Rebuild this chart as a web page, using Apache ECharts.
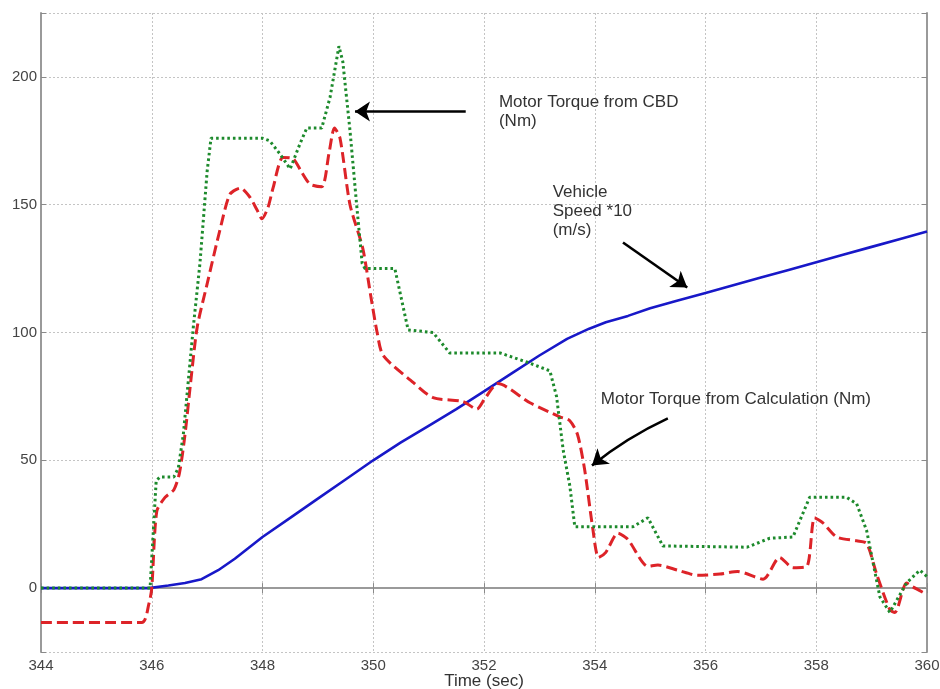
<!DOCTYPE html>
<html>
<head>
<meta charset="utf-8">
<script src="https://cdn.jsdelivr.net/npm/echarts@6/dist/echarts.min.js"></script>
<style>html,body{margin:0;padding:0;background:#fff}#c{width:940px;height:689px}</style>
</head>
<body>
<div id="c"></div>
<script>
// ---- data ----
const xTicksMin = 344, xTicksMax = 360, xStep = 2;
const yMin = -25, yMax = 225;
const speedT = [344,345,345.95,346.3,346.6,346.9,347.2,347.5,348,348.5,349,349.5,350,350.5,351,351.5,352,352.5,353,353.5,353.9,354.2,354.6,355,355.5,356,356.5,357,357.5,358,358.5,359,359.5,360];
const speedV = [0,0,0,1,2,3.5,7,11.5,20,27.5,35,42.5,50,57,63.5,70,77,84,91,97.5,101.5,104,106.5,109.5,112.5,115.5,118.5,121.5,124.5,127.5,130.5,133.5,136.5,139.5];
const calcT = [344,345.82,345.95,346.0,346.09,346.24,346.4,346.5,346.6,346.7,346.82,347,347.23,347.41,347.6,347.77,347.9,347.99,348.1,348.19,348.37,348.55,348.7,348.86,349.07,349.2,349.3,349.4,349.58,349.81,349.95,350.07,350.18,350.72,351.08,351.62,351.87,352.01,352.25,352.83,353.37,353.55,353.69,353.82,353.96,354.07,354.2,354.42,354.6,354.96,355.14,355.5,355.86,356.26,356.58,357.04,357.34,357.58,357.83,357.97,358.12,358.37,358.73,358.91,359.09,359.33,359.42,359.63,359.74,360];
const calcV = [-13.5,-13.5,-6,0,30,35.5,38.5,45,60,80,102,119,140,154,156.5,153,148,144.5,149,156.5,168.5,168,163,158,157,170,180,176,150,133,115,100,91,80.5,74.5,73,70,74,80,72.5,67,65.5,60,46,24,12,14,21.5,19,8.5,9,7,5,5.5,6.5,3.5,12,8,8.5,27.5,25.5,20,18.5,17.5,5.5,-8.5,-9.5,2,0.5,-2.5];
const cbdT = [344,345.97,346.08,346.15,346.4,346.48,346.57,346.75,346.87,347,347.07,348.0,348.13,348.31,348.5,348.68,348.8,349.07,349.22,349.38,349.45,349.58,349.7,349.8,349.85,350.39,350.63,351.08,351.38,352.29,352.83,353.19,353.31,353.43,353.55,353.64,354.69,354.96,355.23,356.75,357.16,357.58,357.88,358.55,358.73,358.91,359.15,359.33,359.63,359.87,360];
const cbdV = [0,0,42,43.5,43.5,47,60,102,127,163,176,176,175,170,164,174,180,180,192,212,206,179,150,127,125,125,101,100,92,92,88,85,75,54,40,24,24,27.5,16.5,16,19.5,20,35.5,35.5,33,22.5,-3.5,-9.5,2,7,4.5];
const noteTexts = ['Motor Torque from CBD\n(Nm)', 'Vehicle\nSpeed *10\n(m/s)', 'Motor Torque from Calculation (Nm)'];
const noteAt = [[352.27,193.7],[353.24,158.6],[354.11,77.7]];
const arrowFrom = [[351.67,186.5],[354.51,135.2],[355.32,66.4]];
const arrowTo = [[349.67,186.5],[355.67,117.6],[353.95,48]];
const arrowCurve = [0,0,-0.06];
const xName = 'Time (sec)';

const zip = (a,b) => a.map((v,i)=>[v,b[i]]);
const font = 'Liberation Sans, Arial, sans-serif';
const chart = echarts.init(document.getElementById('c'));
const boxAxis = {show:true,lineStyle:{color:'#9a9a9a',width:2}};
const tickIn = {show:true,inside:true,length:5,lineStyle:{color:'#8a8a8a',width:1}};
const grid = {show:true,lineStyle:{color:'#c4c4c4',type:[2,2],width:1}};
chart.setOption({
  animation:false,
  grid:{left:41,right:13,top:13,bottom:37,containLabel:false,outerBoundsMode:'none'},
  xAxis:[
    {type:'value',min:xTicksMin,max:xTicksMax,interval:xStep,position:'bottom',
     axisLine:boxAxis,axisTick:tickIn,splitLine:grid,
     axisLabel:{color:'#444',fontSize:15,fontFamily:font,margin:6},
     name:xName,nameLocation:'middle',nameGap:21,nameMoveOverlap:false,
     nameTextStyle:{color:'#333',fontSize:17,fontFamily:font,verticalAlign:'top'}},
    {type:'value',min:xTicksMin,max:xTicksMax,interval:xStep,position:'top',
     axisLine:boxAxis,axisTick:tickIn,splitLine:{show:false},axisLabel:{show:false}}
  ],
  yAxis:[
    {type:'value',min:yMin,max:yMax,splitNumber:5,position:'left',
     axisLine:boxAxis,axisTick:tickIn,splitLine:grid,
     axisLabel:{color:'#444',fontSize:15,fontFamily:font,margin:4,
       formatter:v=>(v%50===0?String(v):'')}},
    {type:'value',min:yMin,max:yMax,splitNumber:5,position:'right',
     axisLine:boxAxis,axisTick:tickIn,splitLine:{show:false},axisLabel:{show:false}}
  ],
  series:[
    {type:'line',name:'speed',data:zip(speedT,speedV),showSymbol:false,
     lineStyle:{color:'#1818c8',width:2.6},z:2},
    {type:'line',name:'calc',data:zip(calcT,calcV),showSymbol:false,smooth:0.25,
     lineStyle:{color:'#dd2328',width:3,type:[11,5]},z:3},
    {type:'line',name:'cbd',data:zip(cbdT,cbdV),showSymbol:false,
     lineStyle:{color:'#1d8a2c',width:3,type:[2.6,3]},z:4},
    {type:'lines',coordinateSystem:'cartesian2d',silent:true,z:6,
     symbol:['none','arrow'],symbolSize:[11,15],
     lineStyle:{color:'#000',width:2.6,opacity:1},
     data:arrowFrom.map((f,i)=>({coords:[f,arrowTo[i]],lineStyle:{curveness:arrowCurve[i]}}))}
  ]
});
const g = noteTexts.map((t,i)=>{
  const p = chart.convertToPixel({gridIndex:0}, noteAt[i]);
  return {type:'text',x:p[0],y:p[1],z:10,
    style:{text:t,fill:'#333',font:'17px '+font,lineHeight:19,align:'left',verticalAlign:'top'}};
});
chart.setOption({graphic:g});
</script>
</body>
</html>
